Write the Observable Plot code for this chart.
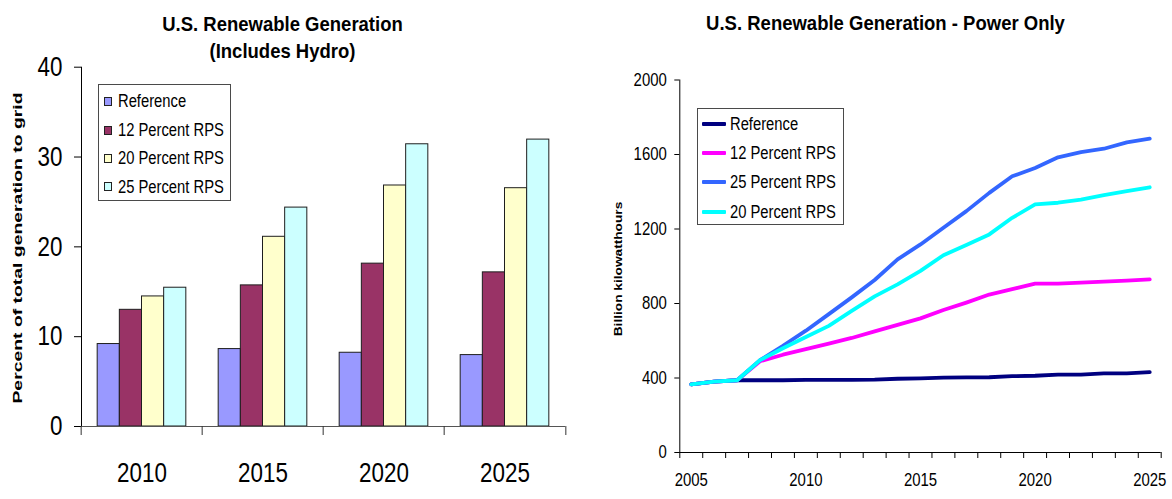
<!DOCTYPE html>
<html><head><meta charset="utf-8">
<script src="https://cdn.jsdelivr.net/npm/d3@7"></script>
<script src="https://cdn.jsdelivr.net/npm/@observablehq/plot@0.6"></script>
<style>
html,body{margin:0;padding:0;background:#fff;}
#root{position:relative;width:1172px;height:499px;overflow:hidden;color:#000;
  font-family:"Liberation Sans",Arial,sans-serif;}
#root svg{position:absolute;top:0;overflow:visible;}
.abs{position:absolute;}
.title{font-family:"Liberation Sans",Arial,sans-serif;font-weight:bold;font-size:18.5px;line-height:20px;
  text-align:center;white-space:nowrap;transform:translateX(-50%) scaleY(1.05);}
.ylab{font-family:"Liberation Sans",Arial,sans-serif;font-weight:bold;white-space:nowrap;line-height:1;}
.legend{position:absolute;border:1px solid #4a4a4a;background:#fff;box-sizing:border-box;}
.row{position:absolute;height:18px;line-height:18px;font-size:18px;white-space:nowrap;
  transform:scaleX(0.82);transform-origin:0 50%;}
</style></head><body><div id="root"></div>
<script>
// ---------- Left chart data ----------
const barYears = ["2010", "2015", "2020", "2025"];
const barSeries = ["Reference", "12 Percent RPS", "20 Percent RPS", "25 Percent RPS"];
const barColors = ["#9999FF", "#993366", "#FFFFCC", "#CCFFFF"];
const barReference = [9.18, 8.62, 8.21, 7.95];
const bar12 = [12.99, 15.71, 18.13, 17.16];
const bar20 = [14.48, 21.12, 26.83, 26.53];
const bar25 = [15.45, 24.37, 31.42, 31.94];
const barTicks = [0, 10, 20, 30, 40];

// ---------- Right chart data ----------
const lineYears = [2005, 2006, 2007, 2008, 2009, 2010, 2011, 2012, 2013, 2014, 2015,
                   2016, 2017, 2018, 2019, 2020, 2021, 2022, 2023, 2024, 2025];
const lineSeries = ["Reference", "12 Percent RPS", "25 Percent RPS", "20 Percent RPS"];
const lineColors = ["#000080", "#FF00FF", "#3366FF", "#00FFFF"];
const lineReference = [366, 381, 388, 388, 388, 390, 390, 390, 391, 396, 398, 402, 403, 404, 410, 412, 418, 418, 425, 425, 432];
const line12 = [366, 381, 388, 490, 525, 555, 585, 615, 650, 685, 720, 765, 805, 848, 877, 907, 907, 912, 917, 923, 930];
const line25 = [366, 381, 388, 496, 573, 654, 743, 833, 926, 1037, 1117, 1207, 1296, 1394, 1483, 1528, 1585, 1613, 1631, 1665, 1685];
const line20 = [366, 381, 388, 496, 560, 620, 680, 760, 838, 903, 975, 1059, 1114, 1171, 1260, 1332, 1341, 1358, 1382, 1403, 1424];
const lineTicks = [0, 400, 800, 1200, 1600, 2000];
const lineTickLabels = [2005, 2010, 2015, 2020, 2025];

const font = '"Liberation Sans",Arial,sans-serif';
const root = document.getElementById("root");

// condense tick labels horizontally (narrow-font look)
function condense(svg, k) {
  d3.select(svg).selectAll("text").each(function () {
    const t = this.getAttribute("transform") || "";
    this.setAttribute("transform", (t + ` scale(${k},1)`).trim());
  });
}

// ---------- Left: grouped bars ----------
const barValues = [barReference, bar12, bar20, bar25];
const barData = barYears.flatMap((yr, i) => barSeries.map((s, j) => ({year: yr, series: s, value: barValues[j][i]})));
const lW = 590, lML = 80, lMR = 23.3;
const groupStep = (lW - lML - lMR) / barYears.length;

const left = Plot.plot({
  width: lW, height: 499,
  marginLeft: lML, marginRight: lMR, marginTop: 66.7, marginBottom: 73,
  style: {fontFamily: font, fontSize: "27px", background: "transparent", color: "#000"},
  fx: {domain: barYears, padding: 0, label: null},
  x: {domain: barSeries, paddingInner: 0, paddingOuter: 0.73, axis: null, round: false},
  y: {domain: [0, 40], ticks: barTicks, tickSize: 7, tickPadding: 12, label: null, line: true},
  color: {domain: barSeries, range: barColors},
  marks: [
    Plot.barY(barData, {fx: "year", x: "series", y: "value", fill: "series", stroke: "#1e1e1e", strokeWidth: 1}),
    Plot.ruleY([0], {stroke: "#555"}),
    Plot.axisFx({anchor: "bottom", tickSize: 0, tickPadding: 36, label: null}),
    Plot.axisFx({anchor: "bottom", tickSize: 9, tickFormat: () => "", label: null, dx: -groupStep / 2, stroke: "#333"}),
    Plot.axisFx({anchor: "bottom", ticks: [barYears[barYears.length - 1]], tickSize: 9, tickFormat: () => "", label: null, dx: groupStep / 2, stroke: "#333"})
  ]
});
condense(left, 0.83);
left.style.left = "0px";
root.appendChild(left);

// ---------- Right: lines ----------
const lineValues = [lineReference, line12, line25, line20];
const lineData = lineSeries.flatMap((s, j) => lineYears.map((yr, i) => ({year: yr, series: s, value: lineValues[j][i]})));
const boundaries = lineYears.map(y => y - 0.5).concat([lineYears[lineYears.length - 1] + 0.5]);

const right = Plot.plot({
  width: 582, height: 499,
  marginLeft: 89.3, marginRight: 11.3, marginTop: 79.5, marginBottom: 47,
  style: {fontFamily: font, fontSize: "18px", background: "transparent", color: "#000"},
  x: {domain: [boundaries[0], boundaries[boundaries.length - 1]]},
  y: {domain: [0, 2000], ticks: lineTicks, tickSize: 5, tickPadding: 8, label: null, line: true, tickFormat: d => String(d)},
  color: {domain: lineSeries, range: lineColors},
  marks: [
    Plot.ruleY([0], {stroke: "#000"}),
    Plot.axisX({ticks: boundaries, tickSize: 6, tickFormat: () => "", label: null}),
    Plot.axisX({ticks: lineTickLabels, tickSize: 0, tickPadding: 21, tickFormat: d => String(d), label: null}),
    Plot.line(lineData, {x: "year", y: "value", z: "series", stroke: "series", strokeWidth: 3.8, strokeLinejoin: "round", strokeLinecap: "round"})
  ]
});
condense(right, 0.83);
right.style.left = "590px";
root.appendChild(right);

// ---------- Titles ----------
function addDiv(cls, text, css) {
  const d = document.createElement("div");
  d.className = cls; d.textContent = text;
  Object.assign(d.style, css);
  root.appendChild(d);
  return d;
}
addDiv("abs title", "U.S. Renewable Generation", {left: "282.5px", top: "15.3px"});
addDiv("abs title", "(Includes Hydro)", {left: "282.5px", top: "41.9px"});
addDiv("abs title", "U.S. Renewable Generation - Power Only", {left: "885.5px", top: "14.3px"});

// ---------- Axis titles ----------
addDiv("abs ylab", "Percent of total generation to grid",
  {left: "18.3px", top: "247.5px", fontSize: "12.5px", transform: "translate(-50%,-50%) rotate(-90deg) scaleX(1.55)"});
addDiv("abs ylab", "Billion kilowatthours",
  {left: "618.5px", top: "268.5px", fontSize: "11.8px", transform: "translate(-50%,-50%) rotate(-90deg) scaleX(1.16)"});

// ---------- Legends ----------
const lLeg = document.createElement("div");
lLeg.className = "legend";
Object.assign(lLeg.style, {left: "98px", top: "84px", width: "133px", height: "117px"});
root.appendChild(lLeg);
const lRows = [101, 130, 158.3, 186.7];
barSeries.forEach((s, i) => {
  const sw = document.createElement("div");
  Object.assign(sw.style, {position: "absolute", left: "104px", top: (lRows[i] - 4.5) + "px", width: "8px", height: "9px",
    background: barColors[i], border: "1px solid #222", boxSizing: "border-box"});
  root.appendChild(sw);
  addDiv("row", s, {left: "117.5px", top: (lRows[i] - 9) + "px"});
});

const rLeg = document.createElement("div");
rLeg.className = "legend";
Object.assign(rLeg.style, {left: "697px", top: "108.3px", width: "147px", height: "117px"});
root.appendChild(rLeg);
const rRows = [124, 153.3, 182.3, 211.7];
lineSeries.forEach((s, i) => {
  const sw = document.createElement("div");
  Object.assign(sw.style, {position: "absolute", left: "701.7px", top: (rRows[i] - 2) + "px", width: "24.5px", height: "4px",
    background: lineColors[i], borderRadius: "1px"});
  root.appendChild(sw);
  addDiv("row", s, {left: "729.5px", top: (rRows[i] - 9) + "px"});
});
</script>
</body></html>
